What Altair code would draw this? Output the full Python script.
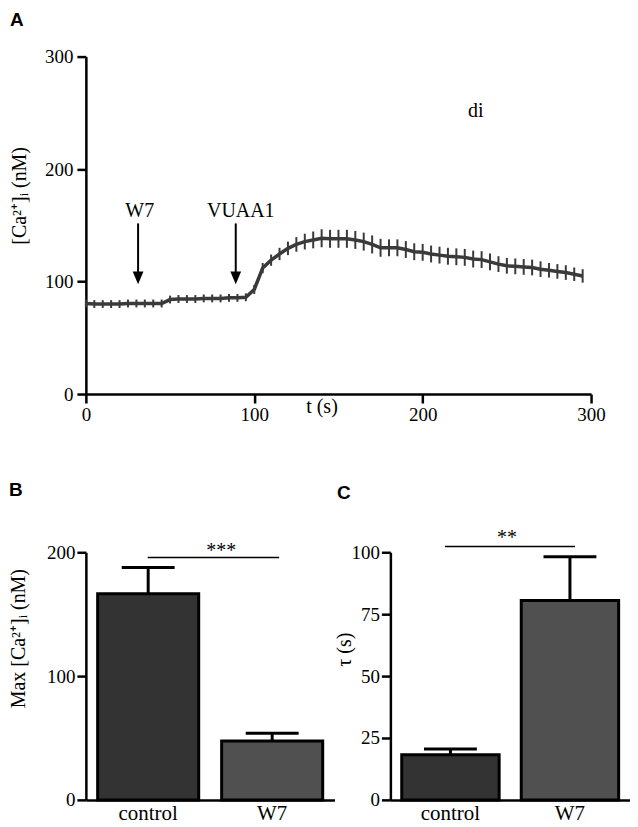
import altair as alt
import pandas as pd

SERIF = "Liberation Serif, Times New Roman, serif"
SANS = "Liberation Sans, Arial, sans-serif"

# ---------------- Panel A: time course ----------------
time_s = [0, 5, 10, 15, 20, 25, 30, 35, 40, 45,
          50, 55, 60, 65, 70, 75, 80, 85, 90, 95,
          100, 105, 110, 115, 120, 125, 130, 135, 140, 145,
          150, 155, 160, 165, 170, 175, 180, 185, 190, 195,
          200, 205, 210, 215, 220, 225, 230, 235, 240, 245,
          250, 255, 260, 265, 270, 275, 280, 285, 290, 295]
ca_mean = [80.5, 80, 80, 80, 80, 80.5, 80.5, 80.5, 80.5, 80.5,
           84, 84.5, 84.5, 84.5, 85, 85, 85, 85.5, 85.5, 86,
           93, 112, 119, 124.5, 129.5, 133, 135.5, 137, 138.5, 138,
           138, 138, 137, 135.5, 133, 130, 130, 130, 128.5, 126.5,
           126, 124.5, 123.5, 122.5, 122, 121.5, 120, 119.5, 117.5, 115.5,
           114, 113.5, 113, 112.5, 111, 110, 109, 108, 106.5, 105]
ca_sem = [3.5, 3.5, 3.5, 3.5, 3.5, 3.5, 3.5, 3.5, 3.5, 3.5,
          3.5, 3.5, 3.5, 3.5, 3.5, 3.5, 3.5, 3.5, 3.5, 3.5,
          4, 4.5, 5, 5.5, 6, 6.5, 7, 7.5, 8, 8,
          8, 8, 8, 8, 8, 8, 7.5, 7.5, 7.5, 7.5,
          7.5, 7.5, 7.5, 7.5, 7.5, 7.5, 7.5, 7.5, 7.5, 7,
          7, 7, 7, 7, 7, 6.5, 6.5, 6.5, 6, 6]

arrow_names = ["W7", "VUAA1"]
arrow_t = [31, 89]
arrow_label_t = [32, 92]
arrow_top = [151.7, 151.7]
arrow_base = [104, 104]
arrow_tip = [97.6, 97.6]
arrow_label_v = [157, 157]

note_text = ["di"]
note_t = [231.6]
note_v = [246.4]

# ---------------- Panels B and C ----------------
groups = ["control", "W7"]
bar_colors = ["#333333", "#505050"]
maxca_mean = [166.5, 47.5]
maxca_sem = [21.3, 6.4]
tau_mean = [18.2, 80.5]
tau_sem = [2.4, 17.7]

sig_B = {"group": "control", "group2": "W7", "v": 195.8, "label": "***"}
sig_C = {"group": "control", "group2": "W7", "v": 102.3, "label": "**"}

# ---------------- data frames ----------------
trace = pd.DataFrame({"t": time_s, "v": ca_mean, "sem": ca_sem})
trace["lo"] = trace["v"] - trace["sem"]
trace["hi"] = trace["v"] + trace["sem"]

arrows = pd.DataFrame({"t": arrow_t, "v": arrow_top, "v2": arrow_base,
                       "tip": arrow_tip, "name": arrow_names})
arrow_lbl = pd.DataFrame({"t": arrow_label_t, "v": arrow_label_v, "name": arrow_names})
notes = pd.DataFrame({"t": note_t, "v": note_v, "name": note_text})

AX = dict(grid=False, domainColor="black", tickColor="black", labelColor="black",
          titleColor="black", labelFont=SERIF, titleFont=SERIF, titleFontWeight="normal",
          domainWidth=2.5, tickWidth=2.5, tickSize=9)


def xa(field="t"):
    return alt.X(f"{field}:Q",
                 scale=alt.Scale(domain=[0, 300], nice=False, zero=False),
                 axis=alt.Axis(values=[0, 100, 200, 300], title="t (s)", titleX=236, titleY=12,
                               titleBaseline="middle", titleAlign="center", titleFontSize=20,
                               labelFontSize=19, labelPadding=3, labelFlush=False,
                               labelOverlap=False, **AX))


def ya(field="v"):
    return alt.Y(f"{field}:Q",
                 scale=alt.Scale(domain=[0, 300], nice=False, zero=False),
                 axis=alt.Axis(values=[0, 100, 200, 300], title="[Ca²⁺]ᵢ (nM)",
                               titleX=-66, titleY=139, titleAngle=-90, titleAlign="center",
                               titleBaseline="middle", titleFontSize=20,
                               labelFontSize=19, labelPadding=4, labelOverlap=False, **AX))


LINE_COLOR = "#3a3a3a"
err = alt.Chart(trace).mark_rule(color=LINE_COLOR, strokeWidth=2).encode(
    x=xa(), y=ya("lo"), y2="hi")
line = alt.Chart(trace).mark_line(color=LINE_COLOR, strokeWidth=3.5).encode(x=xa(), y=ya())
shaft = alt.Chart(arrows).mark_rule(color="black", strokeWidth=2).encode(
    x=xa(), y=ya(), y2="v2")
head = alt.Chart(arrows).mark_point(shape="M-0.85,-2L0.85,-2L0,0Z", size=161, filled=True,
                                    color="black", opacity=1, strokeWidth=0).encode(
    x=xa(), y=ya("tip"))
alabels = alt.Chart(arrow_lbl).mark_text(font=SERIF, fontSize=20, baseline="alphabetic",
                                         color="black").encode(x=xa(), y=ya(), text="name:N")
dilabel = alt.Chart(notes).mark_text(font=SERIF, fontSize=20, baseline="alphabetic",
                                     color="black").encode(x=xa(), y=ya(), text="name:N")

top = alt.layer(err, line, shaft, head, alabels, dilabel).properties(
    width=506, height=338,
    title=alt.TitleParams("A", anchor="start", frame="bounds", font=SANS, fontSize=19,
                          fontWeight="bold", color="black", baseline="bottom",
                          offset=-1, dx=0))


def bar_panel(means, sems, ymax, yvals, ytitle, titleX, titleY, sig, sig_off, txt_dx, txt_dy,
              letter, letter_offset, letter_dx, width):
    df = pd.DataFrame({"group": groups, "v": means, "sem": sems})
    df["top"] = df["v"] + df["sem"]
    sigdf = pd.DataFrame([sig])

    def bx(field="group"):
        return alt.X(f"{field}:N",
                     scale=alt.Scale(domain=groups, paddingInner=0.185, paddingOuter=0.095),
                     axis=alt.Axis(title=None, ticks=False, labelAngle=0, labelFontSize=21,
                                   labelPadding=3, labelBaseline="top", **AX))

    def by(field="v"):
        return alt.Y(f"{field}:Q", scale=alt.Scale(domain=[0, ymax], nice=False),
                     axis=alt.Axis(values=yvals, title=ytitle, titleX=titleX, titleY=titleY,
                                   titleAngle=-90, titleAlign="center", titleBaseline="middle",
                                   titleFontSize=20, labelFontSize=19, labelPadding=2,
                                   labelOverlap=False, **AX))

    bars = alt.Chart(df).mark_bar(stroke="black", strokeWidth=3).encode(
        x=bx(), y=by(),
        color=alt.Color("group:N", scale=alt.Scale(domain=groups, range=bar_colors), legend=None))
    eline = alt.Chart(df).mark_rule(color="black", strokeWidth=3).encode(
        x=bx(), y=by(), y2="top")
    cap = alt.Chart(df).mark_tick(color="black", thickness=3, size=53, opacity=1).encode(
        x=bx(), y=by("top"))
    sline = alt.Chart(sigdf).mark_rule(color="black", strokeWidth=1.5,
                                       xOffset=sig_off[0], x2Offset=sig_off[1]).encode(
        x=bx(), x2="group2:N", y=by())
    stext = alt.Chart(sigdf).mark_text(font=SERIF, fontSize=20, baseline="alphabetic",
                                       color="black", dx=txt_dx, dy=txt_dy).encode(
        x=bx("group2"), y=by(), text="label:N")
    return alt.layer(bars, eline, cap, sline, stext).properties(
        width=width, height=248,
        title=alt.TitleParams(letter, anchor="start", frame="bounds", font=SANS, fontSize=19,
                              fontWeight="bold", color="black", baseline="bottom",
                              offset=letter_offset, dx=letter_dx))


panelB = bar_panel(maxca_mean, maxca_sem, 200, [0, 100, 200], "Max [Ca²⁺]ᵢ (nM)", -67, 86,
                   sig_B, (-0.5, 7), -51, 0, "B", 23, 0, 249)
panelC = bar_panel(tau_mean, tau_sem, 100, [0, 25, 50, 75, 100], "τ (s)", -46, 97,
                   sig_C, (-5.5, 5), -63, -3, "C", 6, 2.5, 240)

bottom = alt.hconcat(panelB, panelC, spacing=0)

chart = alt.concat(top, bottom, columns=1, spacing=55.5, align="none").properties(
    padding={"left": 0, "top": 2, "right": 0, "bottom": 0}, background="white"
).configure_view(stroke=None)

chart.save("out.html", embed_options={"renderer": "svg", "actions": False})
